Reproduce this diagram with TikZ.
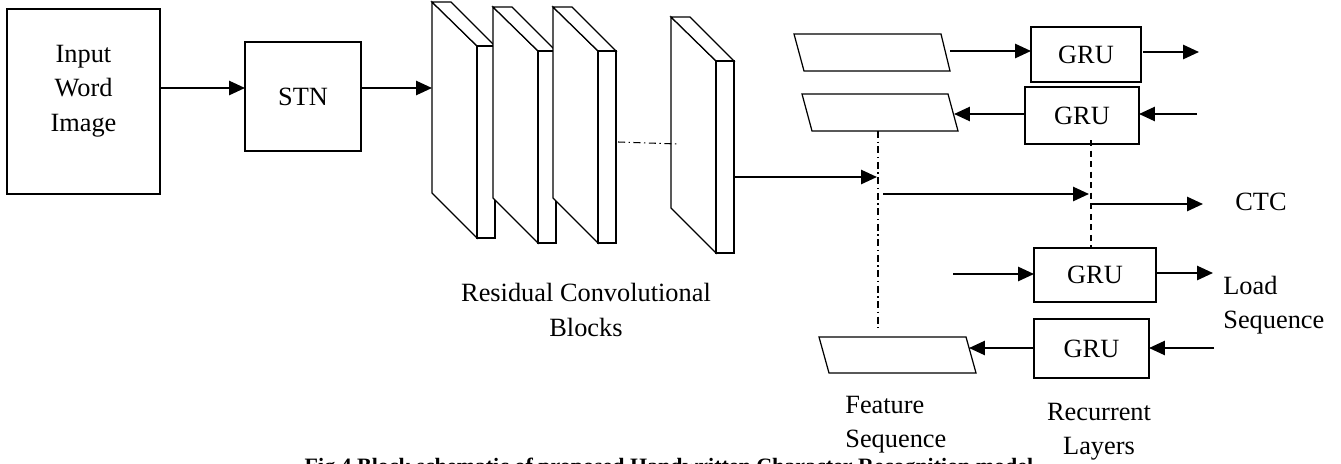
\documentclass[tikz,border=0pt]{standalone}
\usepackage{fontspec}
\setmainfont{Liberation Serif}
\usetikzlibrary{arrows.meta,calc}
\begin{document}
\begin{tikzpicture}[x=0.02cm,y=-0.02cm,
  box/.style={draw,line width=0.7pt,inner sep=0pt,outer sep=0pt,font=\fontsize{15}{19.5}\selectfont},
  txt/.style={inner sep=0pt,align=center,font=\fontsize{15}{19.5}\selectfont},
  arr/.style={line width=1.2pt,-{Triangle[length=9pt,width=8pt]}},
  slab/.style={draw,fill=white,line width=0.7pt,line join=miter},
  para/.style={draw,fill=white,line width=0.7pt},
  dotline/.style={line width=0.6pt,dash pattern=on 4pt off 2pt on 0.8pt off 2pt},
  dashline/.style={line width=0.6pt,dash pattern=on 3.5pt off 2.5pt}]
\useasboundingbox (0,0) rectangle (1341,463);

% Input and STN
\node[box,minimum width=3.06cm,minimum height=3.7cm] (inp) at (83.5,101.5) {};
\node[txt] (inptxt) at (83.5,91) {Input\\Word\\Image};
\node[box,minimum width=2.32cm,minimum height=2.18cm] (stn) at (303,96.5) {STN};
\draw[arr] (inp.east |- 0,88) -- (stn.west |- 0,88);

% Residual convolutional blocks
\foreach \bx/\by in {432/2,493/7,553/7,671/17}{
  \begin{scope}[shift={(\bx,\by)}]
    \draw[slab] (0,0) -- (45,44) -- (45,236) -- (0,191) -- cycle;
    \draw[slab] (0,0) -- (19,0) -- (63,44) -- (45,44) -- cycle;
    \draw[slab] (45,44) rectangle (63,236);
  \end{scope}
}
\coordinate (b1in) at (432,88);
\coordinate (b4out) at (735,177);
\coordinate (dl1) at (618,142);
\coordinate (dl2) at (678,144);
\draw[dotline] (dl1) -- (dl2);
\draw[arr] (stn.east |- b1in) -- (b1in);
\node[txt] (rcb) at (586,310) {Residual Convolutional\\Blocks};

% Feature sequence parallelograms
\draw[para] (794,34) -- (941,34) -- (950,71) -- (804,71) -- cycle;
\draw[para] (802,94) -- (948,94) -- (958,131) -- (812,131) -- cycle;
\draw[para] (819,337) -- (966,337) -- (976,373) -- (829,373) -- cycle;
\coordinate (p1r) at (950,51);
\coordinate (p2r) at (954,114);
\coordinate (p2b) at (878,131);
\coordinate (p3top) at (878,329);
\coordinate (p3r) at (969,348);

% GRU boxes
\node[box,minimum width=2.2cm,minimum height=1.1cm] (gru1) at (1086,54.5) {GRU};
\node[box,minimum width=2.28cm,minimum height=1.14cm] (gru2) at (1082,115.5) {GRU};
\node[box,minimum width=2.44cm,minimum height=1.08cm] (gru3) at (1095,275) {GRU};
\node[box,minimum width=2.3cm,minimum height=1.18cm] (gru4) at (1091.5,348.5) {GRU};

\coordinate (out1) at (1199,52);
\coordinate (in2) at (1197,114);
\coordinate (in3) at (953,274);
\coordinate (out3) at (1213,273);
\coordinate (in4) at (1214,348);

\draw[arr] (p1r) -- (p1r -| gru1.west);
\draw[arr] ([xshift=1.2pt]gru1.east |- out1) -- (out1);
\draw[arr] (gru2.west |- p2r) -- (p2r);
\draw[arr] (in2) -- (in2 -| gru2.east);
\draw[arr] (in3) -- (in3 -| gru3.west);
\draw[arr] (gru3.east |- out3) -- (out3);
\draw[arr] (gru4.west |- p3r) -- (p3r);
\draw[arr] (in4) -- (in4 -| gru4.east);

% vertical links
\draw[dotline] (p2b) -- (p3top);
\coordinate (g2b) at (1091,140);
\coordinate (g3t) at (1091,248);
\draw[dashline] (g2b) -- (g3t);

% main flow
\coordinate (fsa) at (877,177);
\coordinate (fsb) at (883,194);
\coordinate (rla) at (1089,194);
\coordinate (rlb) at (1091,204);
\coordinate (ctca) at (1203,204);
\draw[arr] (b4out) -- (fsa);
\draw[arr] (fsb) -- (rla);
\draw[arr] (rlb) -- (ctca);
\node[txt] (ctc) at (1261,202) {CTC};

% labels
\node[txt,anchor=west,align=left] (load) at (1223,305) {Load\\Sequence};
\node[txt,anchor=west,align=left] (feat) at (845,424.5) {Feature\\Sequence};
\node[txt] (rec) at (1099,431.5) {Recurrent\\Layers};

% caption (cut off by the page edge, as in the reference)
\node[inner sep=0pt,anchor=base,font=\fontsize{12.5}{15}\selectfont\bfseries] (cap) at (669,473)
  {Fig 4 Block schematic of proposed Handwritten Character Recognition model};
\end{tikzpicture}
\end{document}
